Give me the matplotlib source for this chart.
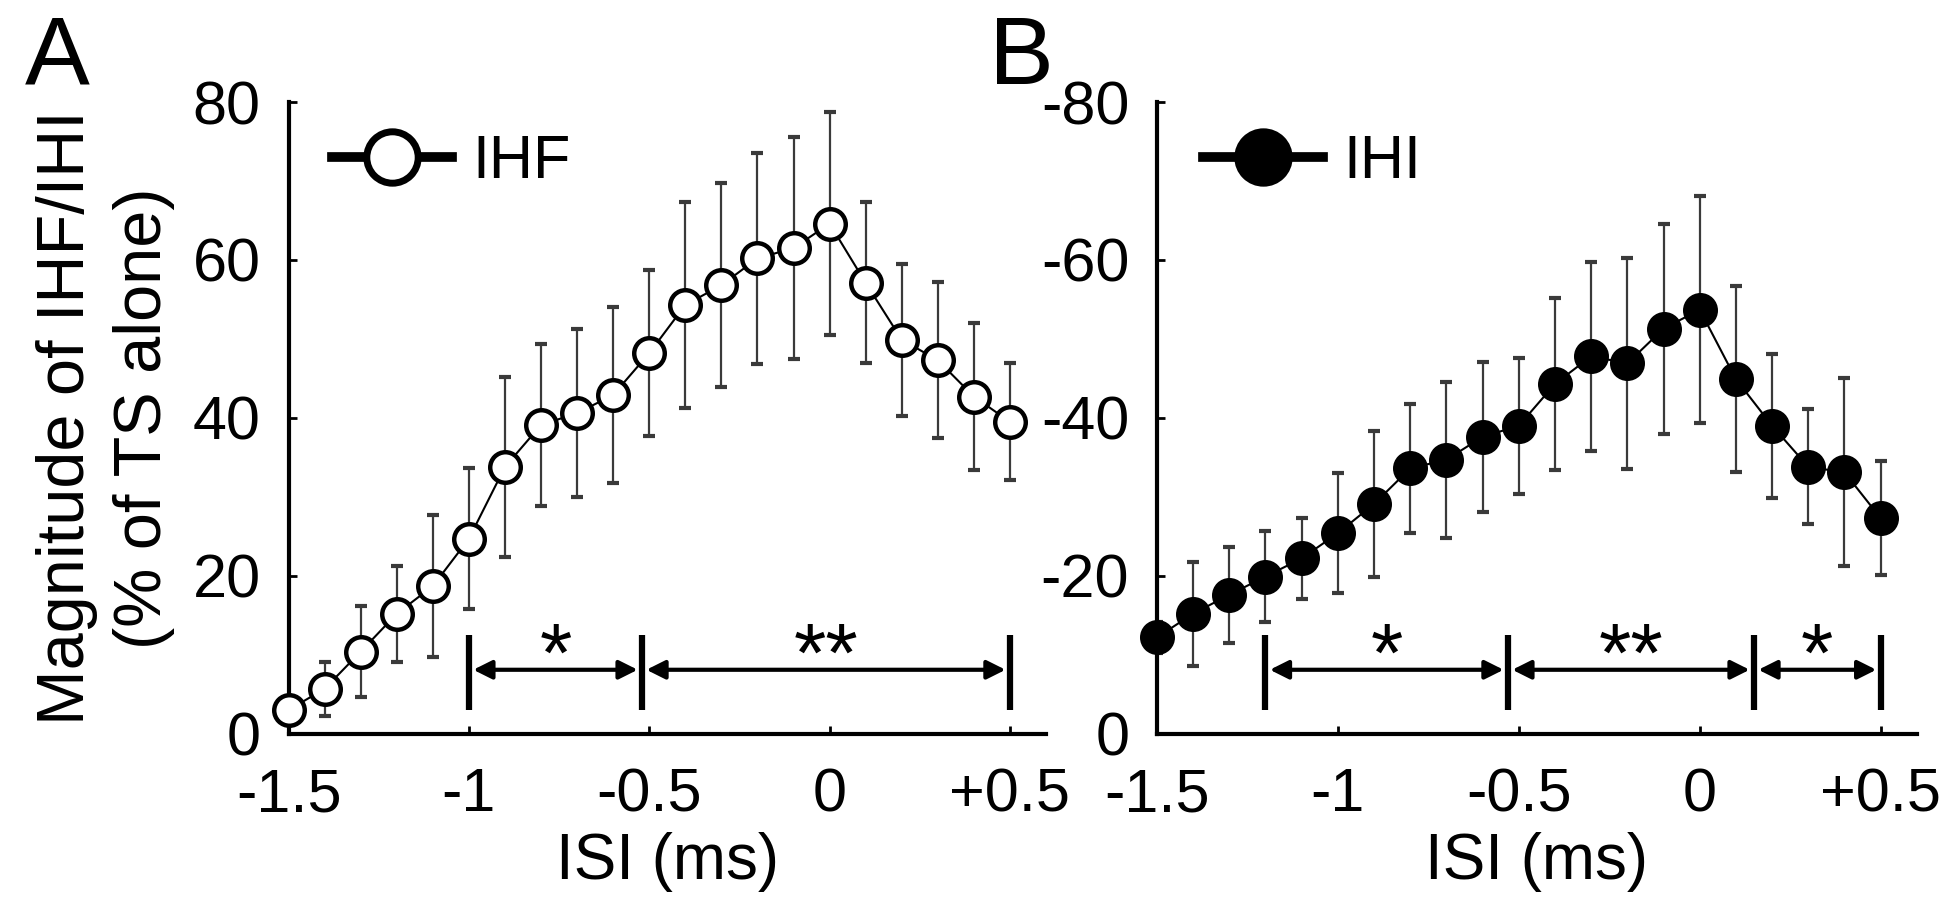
import matplotlib
matplotlib.use('Agg')
import matplotlib.pyplot as plt
from matplotlib.lines import Line2D

plt.rcParams['font.family'] = ['Liberation Sans', 'DejaVu Sans']
plt.rcParams['axes.unicode_minus'] = False

# ISI (ms)
isi = [-1.5, -1.4, -1.3, -1.2, -1.1, -1.0, -0.9, -0.8, -0.7, -0.6, -0.5,
       -0.4, -0.3, -0.2, -0.1, 0.0, 0.1, 0.2, 0.3, 0.4, 0.5]

# IHF magnitude (% of TS alone) and error
ihf_mean = [3.0, 5.7, 10.4, 15.2, 18.7, 24.7, 33.8, 39.1, 40.6, 42.9, 48.2,
            54.3, 56.8, 60.2, 61.5, 64.6, 57.1, 49.9, 47.3, 42.7, 39.5]
ihf_err = [1.5, 3.4, 5.8, 6.1, 9.0, 8.9, 11.4, 10.3, 10.6, 11.1, 10.5,
           13.0, 12.9, 13.4, 14.1, 14.1, 10.2, 9.6, 9.9, 9.3, 7.4]

# IHI magnitude (% of TS alone) and error
ihi_mean = [-12.2, -15.2, -17.6, -19.9, -22.2, -25.4, -29.1, -33.6, -34.7, -37.6, -39.0,
            -44.3, -47.8, -46.9, -51.3, -53.7, -44.9, -39.0, -33.8, -33.1, -27.3]
ihi_err = [2.0, 6.6, 6.1, 5.8, 5.1, 7.6, 9.3, 8.2, 9.9, 9.5, 8.6,
           10.9, 12.0, 13.4, 13.3, 14.4, 11.8, 9.1, 7.3, 11.9, 7.2]

# significance brackets
sig_bounds_a = [-1.0, -0.52, 0.5]
sig_labels_a = ['*', '**']
sig_bounds_b = [-1.2, -0.53, 0.15, 0.5]
sig_labels_b = ['*', '**', '*']

xticks = [-1.5, -1.0, -0.5, 0.0, 0.5]
xticklabels = ['-1.5', '-1', '-0.5', '0', '+0.5']

fig = plt.figure(figsize=(19.5, 9.19), dpi=100)
ax_a = fig.add_axes([0.148, 0.2016, 0.3884, 0.6874])
ax_b = fig.add_axes([0.5933, 0.2016, 0.3897, 0.6874])


def style_axis(ax):
    for s in ['top', 'right']:
        ax.spines[s].set_visible(False)
    for s in ['left', 'bottom']:
        ax.spines[s].set_linewidth(3)
    ax.set_xlim(-1.5, 0.6)
    ax.set_xticks(xticks)
    ax.set_xticklabels(xticklabels)
    ax.tick_params(axis='both', direction='in', length=6, width=2, labelsize=44)
    ax.tick_params(axis='x', pad=24)
    ax.tick_params(axis='y', pad=20)
    ax.set_xlabel('ISI (ms)', fontsize=46, labelpad=6)


def draw_brackets(ax, bounds, labels, sign):
    ax.vlines(bounds, sign * 3.0, sign * 12.5, color='k', lw=4.5)
    for i, lab in enumerate(labels):
        x0, x1 = bounds[i], bounds[i + 1]
        ax.annotate('', xy=(x1 - 0.012, sign * 8.1), xytext=(x0 + 0.012, sign * 8.1),
                    arrowprops=dict(arrowstyle='<|-|>', lw=3, color='k',
                                    mutation_scale=28, shrinkA=0, shrinkB=0))
        ax.text((x0 + x1) / 2, sign * 6.6, lab, ha='center', va='baseline',
                fontsize=60)


# Panel A
ax_a.errorbar(isi, ihf_mean, yerr=ihf_err, fmt='none', ecolor='#3a3a3a',
              elinewidth=1.6, capsize=4, capthick=3, zorder=2)
ax_a.plot(isi, ihf_mean, color='k', lw=1.5, marker='o', ms=22, mfc='white',
          mec='k', mew=3.2, zorder=3, clip_on=False)
style_axis(ax_a)
ax_a.set_ylim(0, 80)
ax_a.set_yticks([0, 20, 40, 60, 80])
ax_a.set_ylabel('Magnitude of IHF/IHI\n(% of TS alone)', fontsize=48,
                labelpad=13, linespacing=1.3)
draw_brackets(ax_a, sig_bounds_a, sig_labels_a, 1)
h_a = Line2D([], [], color='k', lw=7, marker='o', ms=37, mfc='white', mec='k', mew=5)
ax_a.legend([h_a], ['IHF'], loc='center left', bbox_to_anchor=(0.0574, 0.904),
            frameon=False, fontsize=44, handlelength=1.97, handletextpad=0.33,
            borderpad=0, borderaxespad=0)

# Panel B
ax_b.errorbar(isi, ihi_mean, yerr=ihi_err, fmt='none', ecolor='#3a3a3a',
              elinewidth=1.6, capsize=4, capthick=3, zorder=2)
ax_b.plot(isi, ihi_mean, color='k', lw=1.5, marker='o', ms=22, mfc='k',
          mec='k', mew=3.2, zorder=3, clip_on=False)
style_axis(ax_b)
ax_b.set_ylim(0, -80)
ax_b.set_yticks([0, -20, -40, -60, -80])
draw_brackets(ax_b, sig_bounds_b, sig_labels_b, -1)
h_b = Line2D([], [], color='k', lw=7, marker='o', ms=37, mfc='k', mec='k', mew=5)
ax_b.legend([h_b], ['IHI'], loc='center left', bbox_to_anchor=(0.0605, 0.904),
            frameon=False, fontsize=44, handlelength=1.97, handletextpad=0.33,
            borderpad=0, borderaxespad=0)

fig.text(0.0128, 0.985, 'A', fontsize=70, va='top', ha='left')
fig.text(0.507, 0.985, 'B', fontsize=70, va='top', ha='left')

fig.savefig('out.png', dpi=100)
